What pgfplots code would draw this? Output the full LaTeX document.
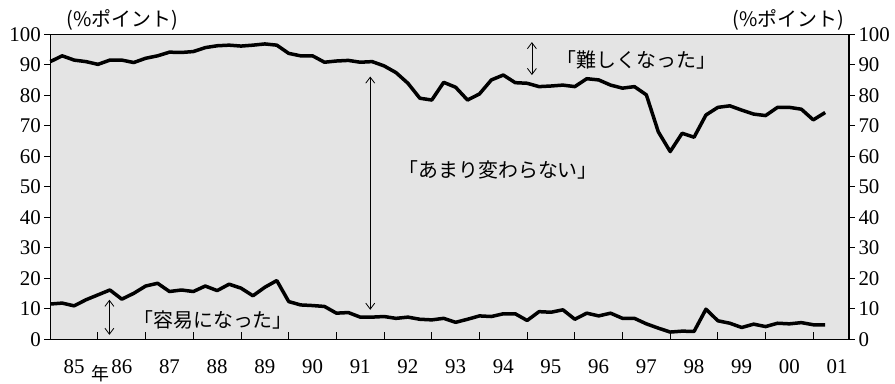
\documentclass[border=0pt]{standalone}
\usepackage{fontspec}
\setmainfont{Liberation Serif}
\newfontfamily\jp{Noto Sans CJK JP}
\usepackage{pgfplots}
\pgfplotsset{compat=1.18}
\usepackage{pgfplotstable}
\usetikzlibrary{arrows.meta}
\definecolor{plotbg}{RGB}{228,228,228}

% quarterly survey, upper line = easy + unchanged, lower line = easy
\pgfplotstableread{
x up low
1985.00 91.1 11.6
1985.25 93.0 11.9
1985.50 91.6 11.0
1985.75 91.1 13.0
1986.00 90.2 14.6
1986.25 91.6 16.2
1986.50 91.6 13.2
1986.75 90.8 15.1
1987.00 92.2 17.5
1987.25 93.0 18.4
1987.50 94.2 15.7
1987.75 94.1 16.2
1988.00 94.4 15.7
1988.25 95.7 17.5
1988.50 96.3 16.0
1988.75 96.5 18.1
1989.00 96.2 16.8
1989.25 96.5 14.3
1989.50 96.9 17.1
1989.75 96.5 19.3
1990.00 93.8 12.4
1990.25 93.0 11.3
1990.50 93.0 11.1
1990.75 90.9 10.8
1991.00 91.3 8.6
1991.25 91.5 8.8
1991.50 90.9 7.3
1991.75 91.1 7.3
1992.00 89.7 7.5
1992.25 87.5 6.9
1992.50 84.0 7.3
1992.75 79.1 6.6
1993.00 78.5 6.4
1993.25 84.3 6.9
1993.50 82.7 5.6
1993.75 78.5 6.6
1994.00 80.5 7.7
1994.25 85.1 7.5
1994.50 86.7 8.4
1994.75 84.2 8.4
1995.00 84.0 6.2
1995.25 82.9 9.1
1995.50 83.1 8.9
1995.75 83.4 9.7
1996.00 82.9 6.6
1996.25 85.5 8.6
1996.50 85.1 7.7
1996.75 83.4 8.6
1997.00 82.4 6.9
1997.25 82.9 6.9
1997.50 80.2 5.1
1997.75 68.1 3.7
1998.00 61.6 2.4
1998.25 67.6 2.7
1998.50 66.3 2.6
1998.75 73.6 9.9
1999.00 76.1 6.1
1999.25 76.6 5.3
1999.50 75.2 3.9
1999.75 73.9 5.0
2000.00 73.4 4.2
2000.25 76.1 5.3
2000.50 76.1 5.1
2000.75 75.5 5.5
2001.00 72.0 4.8
2001.25 74.4 4.8
}\survey

\pgfplotsset{
  base/.style={
    width=799bp, height=305bp, scale only axis,
    xmin=1985, xmax=2001.75, ymin=0, ymax=100,
    axis line style={line width=1.2bp},
    /pgf/number format/assume math mode=true,
    tick label style={font=\fontsize{21}{21}\selectfont},
    tick style={line width=1bp, black},
    major tick length=6bp,
  },
}
\tikzset{
  jplabel/.style={inner sep=0pt, font=\jp\fontsize{20}{20}\selectfont},
  dbl/.style={{Straight Barb[length=6bp,width=9bp]}-{Straight Barb[length=6bp,width=9bp]}, line width=0.8bp},
}

\begin{document}
\begin{tikzpicture}
\begin{axis}[base,
    clip=false,
    axis background/.style={fill=plotbg},
    xtick={1986,...,2001}, xticklabels={},
    xtick pos=left, tick align=inside, major tick length=7bp,
    ytick=\empty,
    extra x ticks={1985.5,1986.5,...,2001.5},
    extra x tick labels={85,86,87,88,89,90,91,92,93,94,95,96,97,98,99,00,01},
    extra x tick style={major tick length=0pt,
      tick label style={yshift=-17bp}},
]
\addplot[line width=3.5bp, line join=round, black] table[x=x, y=up] {\survey};
\addplot[line width=3.5bp, line join=round, black] table[x=x, y=low] {\survey};

\draw[dbl] (axis cs:1995.1,97.5) -- (axis cs:1995.1,86.7);
\draw[dbl] (axis cs:1991.71,86.2) -- (axis cs:1991.71,9.7);
\draw[dbl] (axis cs:1986.24,13.0) -- (axis cs:1986.24,1.5);

\node[jplabel, anchor=west] at (axis cs:1995.62,91.6) {「難しくなった」};
\node[jplabel, anchor=west] at (axis cs:1992.3,55.6) {「あまり変わらない」};
\node[jplabel, anchor=west] at (axis cs:1986.74,6.4) {「容易になった」};

\node[jplabel] at ([shift={(72bp,14.5bp)}]rel axis cs:0,1) {(\%ポイント)};
\node[jplabel] at ([shift={(-61bp,14.5bp)}]rel axis cs:1,1) {(\%ポイント)};
\node[jplabel, font=\jp\fontsize{18}{18}\selectfont]
  at ([shift={(49.7bp,-34.5bp)}]rel axis cs:0,0) {年};

\coordinate (bl) at (rel axis cs:0,0);
\coordinate (tr) at (rel axis cs:1,1);
\end{axis}

\begin{axis}[base,
    xtick=\empty,
    ytick={0,10,...,100}, ytick pos=left, tick align=outside,
]
\end{axis}

\begin{axis}[base,
    xtick=\empty,
    ytick={0,10,...,100}, ytick pos=right, yticklabel pos=right, tick align=outside,
]
\end{axis}

\pgfresetboundingbox
\path ([shift={(-50.3bp,-44.5bp)}]bl) rectangle ([shift={(46bp,34.5bp)}]tr);
\end{tikzpicture}
\end{document}
